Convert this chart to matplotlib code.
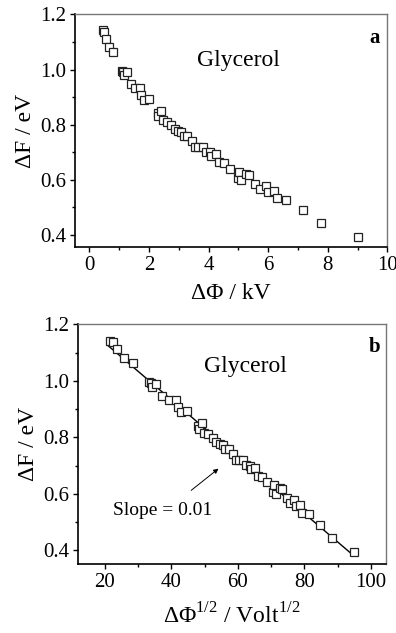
import numpy as np
import matplotlib
matplotlib.use('Agg')
import matplotlib.pyplot as plt

plt.rcParams['font.family'] = ['Liberation Serif', 'DejaVu Serif']
plt.rcParams['mathtext.fontset'] = 'custom'
plt.rcParams['mathtext.rm'] = 'Liberation Serif'

# Glycerol data: potential difference (kV) and Delta F (eV)
dphi_kv = [0.47, 0.50, 0.56, 0.66, 0.81, 1.11, 1.14, 1.17, 1.26, 1.39,
           1.54, 1.70, 1.75, 1.85, 2.01, 2.29, 2.32, 2.42, 2.47, 2.60,
           2.75, 2.86, 2.99, 3.07, 3.16, 3.27, 3.44, 3.53, 3.63, 3.80,
           3.91, 4.06, 4.09, 4.25, 4.36, 4.53, 4.73, 4.98, 5.02, 5.10,
           5.27, 5.37, 5.57, 5.72, 5.92, 6.00, 6.19, 6.30, 6.60, 7.18,
           7.77, 9.00]
dF_ev = [1.143, 1.136, 1.112, 1.081, 1.063, 0.996, 0.992, 0.979, 0.990, 0.948,
         0.932, 0.932, 0.908, 0.890, 0.893, 0.841, 0.830, 0.851, 0.816, 0.811,
         0.799, 0.783, 0.777, 0.772, 0.760, 0.760, 0.742, 0.718, 0.718, 0.718,
         0.702, 0.700, 0.688, 0.693, 0.664, 0.661, 0.640, 0.608, 0.630, 0.600,
         0.621, 0.616, 0.584, 0.567, 0.579, 0.557, 0.560, 0.533, 0.527, 0.490,
         0.445, 0.394]

dphi = np.array(dphi_kv)
dF = np.array(dF_ev)
sqrt_dphi = np.sqrt(dphi * 1000)  # Volt^1/2

# linear fit for panel b
slope, icpt = np.polyfit(sqrt_dphi, dF, 1)
xfit = np.array([sqrt_dphi.min() - 1, sqrt_dphi.max()])

fig = plt.figure(figsize=(3.96, 6.33), dpi=100)
ax1 = fig.add_axes([0.1894, 0.6093, 0.789, 0.368])
ax2 = fig.add_axes([0.196, 0.1085, 0.7786, 0.379])

mk = dict(marker='s', ls='none', ms=5.6, mfc='white', mec='#222222', mew=0.9)

def style(ax):
    for s in ['left', 'bottom']:
        ax.spines[s].set_linewidth(1.2)
        ax.spines[s].set_color('black')
    for s in ['top', 'right']:
        ax.spines[s].set_linewidth(1.0)
        ax.spines[s].set_color('#777777')
    ax.tick_params(which='both', direction='out', top=False, right=False,
                   labelsize=15, pad=2.5, width=1.0)
    ax.tick_params(which='major', length=3.5)
    ax.tick_params(which='minor', length=2)
    ax.set_ylabel('ΔF / eV', fontsize=17, labelpad=3)

# panel a
ax1.plot(dphi, dF, **mk)
ax1.set_xlim(-0.48, 10.0)
ax1.set_ylim(0.355, 1.2)
ax1.set_xticks([0, 2, 4, 6, 8, 10])
ax1.set_xticks(np.arange(1, 10, 2), minor=True)
ax1.set_yticks([0.4, 0.6, 0.8, 1.0, 1.2])
ax1.set_yticks([0.5, 0.7, 0.9, 1.1], minor=True)
ax1.set_yticklabels(['0.4', '0.6', '0.8', '1.0', '1.2'])
style(ax1)
ax1.set_xlabel('ΔΦ / kV', fontsize=17, labelpad=6)
ax1.text(0.522, 0.804, 'Glycerol', transform=ax1.transAxes, fontsize=17,
         ha='center', va='center')
ax1.text(0.96, 0.898, 'a', transform=ax1.transAxes, fontsize=15,
         fontweight='bold', ha='center', va='center')

# panel b
ax2.plot(xfit, icpt + slope * xfit, color='black', lw=1.0)
ax2.plot(sqrt_dphi, dF, **mk)
ax2.set_xlim(11.8, 104.5)
ax2.set_ylim(0.35, 1.2)
ax2.set_xticks([20, 40, 60, 80, 100])
ax2.set_xticks([30, 50, 70, 90], minor=True)
ax2.set_yticks([0.4, 0.6, 0.8, 1.0, 1.2])
ax2.set_yticks([0.5, 0.7, 0.9, 1.1], minor=True)
ax2.set_yticklabels(['0.4', '0.6', '0.8', '1.0', '1.2'])
style(ax2)
ax2.set_xlabel(r'ΔΦ$^{\mathregular{1/2}}$ / Volt$^{\mathregular{1/2}}$',
               fontsize=17, labelpad=8)
ax2.text(0.543, 0.823, 'Glycerol', transform=ax2.transAxes, fontsize=17,
         ha='center', va='center')
ax2.text(0.964, 0.907, 'b', transform=ax2.transAxes, fontsize=15,
         fontweight='bold', ha='center', va='center')
ax2.annotate('', xy=(54.8, 0.695), xytext=(45.3, 0.606),
             arrowprops=dict(arrowstyle='-|>', color='black', lw=0.7,
                             mutation_scale=7))
ax2.text(37.5, 0.539, 'Slope = 0.01', fontsize=14, ha='center', va='center')

fig.savefig('out.png', dpi=100)
